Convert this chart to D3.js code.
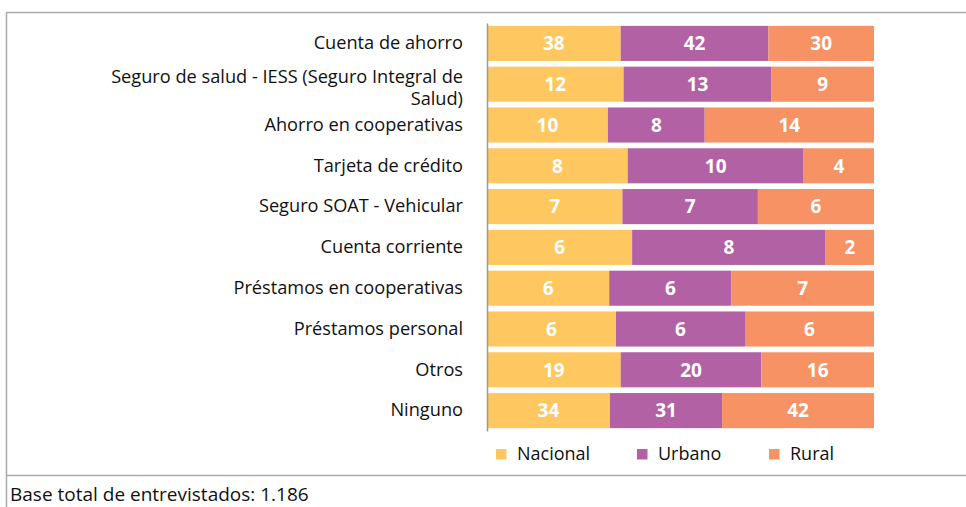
<!DOCTYPE html>
<html>
<head>
<meta charset="utf-8">
<script src="https://cdn.jsdelivr.net/npm/d3@7"></script>
<style>
  body { margin: 0; background: #fff; }
  text { font-family: "Open Sans", sans-serif; }
</style>
</head>
<body>
<svg id="chart" width="966" height="507"></svg>
<script>
// data (percent, each row is split Nacional / Urbano / Rural)
var categories = ["Cuenta de ahorro", "Seguro de salud - IESS (Seguro Integral de Salud)",
  "Ahorro en cooperativas", "Tarjeta de crédito", "Seguro SOAT - Vehicular",
  "Cuenta corriente", "Préstamos en cooperativas", "Préstamos personal", "Otros", "Ninguno"];
var series = ["Nacional", "Urbano", "Rural"];
var nacional = [38, 12, 10, 8, 7, 6, 6, 6, 19, 34];
var urbano   = [42, 13, 8, 10, 7, 8, 6, 6, 20, 31];
var rural    = [30, 9, 14, 4, 6, 2, 7, 6, 16, 42];
var colors = ["#FEC760", "#B361A5", "#F69264"];
var note = "Base total de entrevistados: 1.186";

var rows = categories.map(function(c, i) {
  return { cat: c, Nacional: nacional[i], Urbano: urbano[i], Rural: rural[i] };
});

var svg = d3.select("#chart");

// frame lines
var frame = svg.append("g").attr("stroke", "#ABABAB").attr("stroke-width", 1.5);
frame.append("line").attr("x1", 6).attr("x2", 966).attr("y1", 12.5).attr("y2", 12.5);
frame.append("line").attr("x1", 6.5).attr("x2", 6.5).attr("y1", 12).attr("y2", 507);
frame.append("line").attr("x1", 6).attr("x2", 966).attr("y1", 475.5).attr("y2", 475.5);

var x = d3.scaleLinear().domain([0, 1]).range([487, 874]);
var y = d3.scaleBand().domain(categories).range([23, 431]).paddingInner(0.14).paddingOuter(0.07);
var color = d3.scaleOrdinal().domain(series).range(colors);

var stacked = d3.stack().keys(series).offset(d3.stackOffsetExpand)(rows);

var layer = svg.append("g").selectAll("g")
  .data(stacked).enter().append("g")
  .attr("fill", function(d) { return color(d.key); });

layer.selectAll("rect")
  .data(function(d) { return d; })
  .enter().append("rect")
  .attr("x", function(d) { return x(d[0]); })
  .attr("y", function(d) { return y(d.data.cat); })
  .attr("width", function(d) { return x(d[1]) - x(d[0]); })
  .attr("height", y.bandwidth());

// value labels
layer.each(function(s) {
  d3.select(this).selectAll("text")
    .data(s).enter().append("text")
    .attr("x", function(d) { return (x(d[0]) + x(d[1])) / 2; })
    .attr("y", function(d) { return y(d.data.cat) + y.bandwidth() / 2; })
    .attr("dy", "0.36em")
    .attr("text-anchor", "middle")
    .attr("fill", "#fff")
    .attr("font-weight", "bold")
    .attr("font-size", 19)
    .text(function(d) { return d.data[s.key]; });
});

// category axis
var axis = svg.append("g")
  .attr("transform", "translate(487,0)")
  .call(d3.axisLeft(y).tickSize(0).tickPadding(24));
axis.select(".domain").attr("stroke", "#999").attr("stroke-width", 1.5);
axis.selectAll(".tick text")
  .attr("font-family", "Open Sans, sans-serif")
  .attr("font-size", 18.2)
  .attr("fill", "#111")
  .call(wrap, 370);

function wrap(texts, width) {
  texts.each(function() {
    var t = d3.select(this);
    var words = t.text().split(" ");
    var xx = t.attr("x");
    t.text(null);
    var line = [], n = 0;
    var first = t.append("tspan").attr("x", xx).attr("dy", "0.32em");
    var ts = first;
    words.forEach(function(w) {
      line.push(w);
      ts.text(line.join(" "));
      if (ts.node().getComputedTextLength() > width && line.length > 1) {
        line.pop();
        ts.text(line.join(" "));
        line = [w];
        n++;
        ts = t.append("tspan").attr("x", xx).attr("dy", "1.22em").text(w);
      }
    });
    // wrapped labels sit a bit higher, like the original
    if (n > 0) first.attr("dy", (0.32 - 0.4 * n) + "em");
  });
}

// legend
var legendX = [496, 637, 769];
var legend = svg.append("g").selectAll("g")
  .data(series).enter().append("g")
  .attr("transform", function(d, i) { return "translate(" + legendX[i] + ",449)"; });
legend.append("rect").attr("width", 10.5).attr("height", 10.5)
  .attr("fill", function(d) { return color(d); });
legend.append("text").attr("x", 21).attr("y", 10.5)
  .attr("font-size", 18).attr("fill", "#111")
  .text(function(d) { return d; });

svg.append("text").attr("x", 10).attr("y", 500.5)
  .attr("font-size", 19).attr("fill", "#111")
  .text(note);
</script>
</body>
</html>
